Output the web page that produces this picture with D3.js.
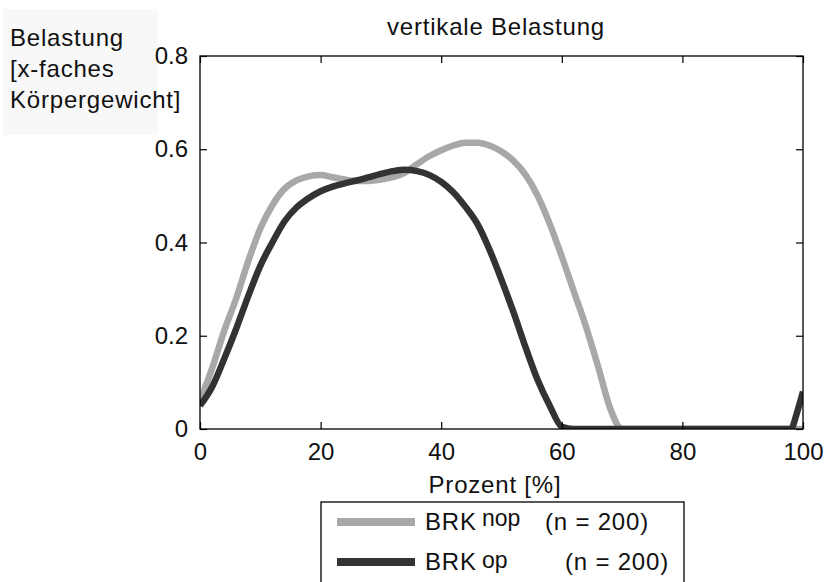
<!DOCTYPE html>
<html>
<head>
<meta charset="utf-8">
<title>vertikale Belastung</title>
<script src="https://cdn.jsdelivr.net/npm/d3@7"></script>
<style>
  body { margin: 0; background: #fff; }
  text { font-family: "Liberation Sans", Arial, sans-serif; fill: #111; }
  .lbl { font-size: 24px; letter-spacing: 0.8px; }
  .axis text { font-size: 24px; }
  .axis line { stroke: #000; stroke-width: 1.2; }
</style>
</head>
<body>
<script>
// Prozent (x) und Belastung der beiden Gruppen
var pct = [0, 2, 4, 6, 8, 10, 12, 14, 16, 18, 20, 22, 24, 26, 28, 30, 32, 34, 36, 38,
           40, 42, 44, 46, 48, 50, 52, 54, 56, 58, 60, 62, 64, 66, 68, 70, 72, 74, 76, 78,
           80, 82, 84, 86, 88, 90, 92, 94, 96, 98, 99, 100];
var nop = [0.06, 0.13, 0.21, 0.28, 0.36, 0.43, 0.48, 0.515, 0.533, 0.542, 0.545, 0.54, 0.535, 0.532, 0.532, 0.535, 0.54, 0.55, 0.568, 0.585,
           0.598, 0.608, 0.614, 0.614, 0.608, 0.595, 0.575, 0.545, 0.5, 0.44, 0.37, 0.295, 0.22, 0.135, 0.045, 0, 0, 0, 0, 0,
           0, 0, 0, 0, 0, 0, 0, 0, 0, 0, 0, 0];
var op  = [0.05, 0.09, 0.15, 0.215, 0.285, 0.35, 0.4, 0.445, 0.475, 0.495, 0.51, 0.52, 0.527, 0.533, 0.54, 0.547, 0.553, 0.556, 0.553, 0.545,
           0.53, 0.508, 0.477, 0.44, 0.385, 0.32, 0.25, 0.175, 0.105, 0.05, 0.005, 0, 0, 0, 0, 0, 0, 0, 0, 0,
           0, 0, 0, 0, 0, 0, 0, 0, 0, 0, 0.035, 0.08];
var xTicks = [0, 20, 40, 60, 80, 100];
var yTicks = [0, 0.2, 0.4, 0.6, 0.8];
var yTickLabels = ["0", "0.2", "0.4", "0.6", "0.8"];
var legendNames = ["BRK", "BRK"];
var legendSub = ["nop", "op"];
var legendN = ["(n = 200)", "(n = 200)"];

var w = 824, h = 582;
var pl = 200, pr = 803, pt = 56, pb = 429;

var svg = d3.select("body").append("svg")
  .attr("width", w).attr("height", h);

// leicht grauer Hintergrund hinter der y-Beschriftung
svg.append("rect")
  .attr("x", 3).attr("y", 9).attr("width", 155).attr("height", 126)
  .attr("fill", "#f8f8f8");

var x = d3.scaleLinear().domain([0, 100]).range([pl, pr]);
var y = d3.scaleLinear().domain([0, 0.8]).range([pb, pt]);

svg.append("defs").append("clipPath").attr("id", "plotclip")
  .append("rect")
  .attr("x", pl).attr("y", pt)
  .attr("width", pr - pl).attr("height", pb - pt);

var line = d3.line()
  .x(function(d){ return x(d[0]); })
  .y(function(d){ return y(d[1]); })
  .curve(d3.curveMonotoneX);

var g = svg.append("g").attr("clip-path", "url(#plotclip)");

g.append("path")
  .datum(d3.zip(pct, nop))
  .attr("d", line)
  .attr("fill", "none")
  .attr("stroke", "#a8a8a8")
  .attr("stroke-width", 6.5)
  .attr("stroke-linejoin", "round");

g.append("path")
  .datum(d3.zip(pct, op))
  .attr("d", line)
  .attr("fill", "none")
  .attr("stroke", "#333")
  .attr("stroke-width", 6.5)
  .attr("stroke-linejoin", "round");

// Achsen mit nach innen gerichteten Ticks
var xb = svg.append("g").attr("class", "axis")
  .attr("transform", "translate(0," + pb + ")")
  .call(d3.axisBottom(x).tickValues(xTicks).tickSize(-7).tickFormat(d3.format("d")));
xb.selectAll("text").attr("y", 14).attr("dy", "0.71em");

svg.append("g").attr("class", "axis")
  .attr("transform", "translate(0," + pt + ")")
  .call(d3.axisTop(x).tickValues(xTicks).tickSize(-7).tickFormat(""));

var yl = svg.append("g").attr("class", "axis")
  .attr("transform", "translate(" + pl + ",0)")
  .call(d3.axisLeft(y).tickValues(yTicks).tickSize(-7)
    .tickFormat(function(d, i){ return yTickLabels[i]; }));
yl.selectAll("text").attr("x", -12);

svg.append("g").attr("class", "axis")
  .attr("transform", "translate(" + pr + ",0)")
  .call(d3.axisRight(y).tickValues(yTicks).tickSize(-7).tickFormat(""));

svg.selectAll(".axis .domain").remove();

svg.append("rect")
  .attr("x", pl).attr("y", pt)
  .attr("width", pr - pl).attr("height", pb - pt)
  .attr("fill", "none").attr("stroke", "#000").attr("stroke-width", 1.3);

// Titel und Achsenbeschriftungen
svg.append("text").attr("class", "lbl")
  .attr("x", 496).attr("y", 35).attr("text-anchor", "middle")
  .text("vertikale Belastung");

svg.append("text").attr("class", "lbl")
  .attr("x", 495).attr("y", 493).attr("text-anchor", "middle")
  .text("Prozent [%]");

var ylab = ["Belastung", "[x-faches", "Körpergewicht]"];
svg.selectAll(".ylab").data(ylab).enter()
  .append("text").attr("class", "lbl ylab")
  .attr("x", 10)
  .attr("y", function(d, i){ return 46 + i * 31; })
  .text(function(d){ return d; });

// Legende
svg.append("rect")
  .attr("x", 321).attr("y", 502).attr("width", 363).attr("height", 100)
  .attr("fill", "#fff").attr("stroke", "#000").attr("stroke-width", 1.3);

var legColors = ["#a8a8a8", "#333"];
var leg = svg.selectAll(".leg").data(legendNames).enter()
  .append("g").attr("class", "leg")
  .attr("transform", function(d, i){ return "translate(0," + (522 + i * 40) + ")"; });

leg.append("line")
  .attr("x1", 337).attr("x2", 415)
  .attr("stroke", function(d, i){ return legColors[i]; })
  .attr("stroke-width", 8);

leg.append("text").attr("class", "lbl")
  .attr("x", 425).attr("y", 8)
  .text(function(d){ return d; });

leg.append("text")
  .attr("x", 482).attr("y", function(d, i){ return i == 0 ? 4 : 6; })
  .style("font-size", "23px")
  .text(function(d, i){ return legendSub[i]; });

leg.append("text").attr("class", "lbl")
  .attr("x", function(d, i){ return i == 0 ? 545 : 565; })
  .attr("y", 8)
  .text(function(d, i){ return legendN[i]; });
</script>
</body>
</html>
